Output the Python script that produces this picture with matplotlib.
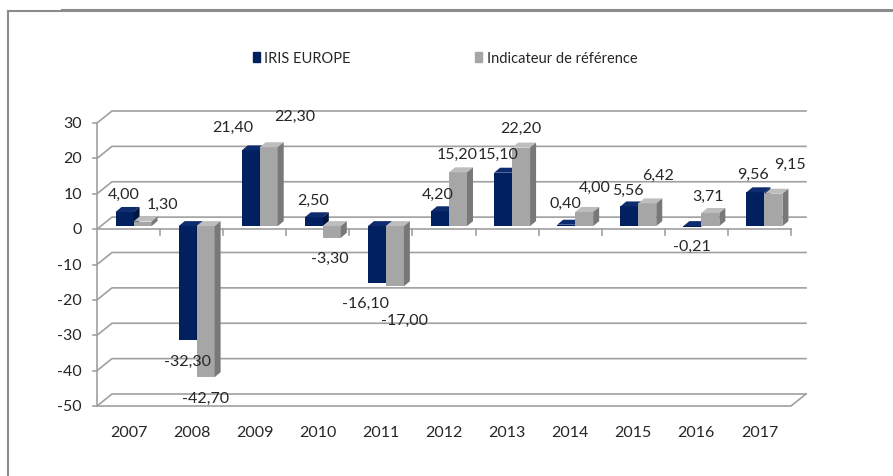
import numpy as np
import matplotlib.pyplot as plt
from matplotlib.patches import Polygon, Patch
from matplotlib.lines import Line2D

# --- données ---
annees = ['2007', '2008', '2009', '2010', '2011', '2012',
          '2013', '2014', '2015', '2016', '2017']
iris = [4.00, -32.30, 21.40, 2.50, -16.10, 4.20, 15.10, 0.40, 5.56, -0.21, 9.56]
reference = [1.30, -42.70, 22.30, -3.30, -17.00, 15.20, 22.20, 4.00, 6.42, 3.71, 9.15]
noms = ['IRIS EUROPE', 'Indicateur de référence']

# décalage des étiquettes (pixels) par rapport au bout de chaque barre
decal_iris = [(-1, 18), (0, -21), (-18, 24), (-1, 17), (-11, -20), (-2, 17),
              (-5, 19), (-1, 22), (-1, 17), (0, -19), (-2, 18)]
decal_ref = [(20, 18), (0, -21), (26, 31), (-2, -20), (10, -34), (-1, 18),
             (0, 20), (11, 25), (11, 29), (-2, 17), (16, 30)]

# couleurs façon Excel
bleu = ('#002060', '#0d2b6e', '#00143f')     # face, dessus, côté
gris = ('#a6a6a6', '#bdbdbd', '#787878')
c_grille = '#a0a0a0'

plt.rcParams['font.family'] = ['Lato', 'DejaVu Sans']

W, H = 893, 477
fig = plt.figure(figsize=(W / 100, H / 100), dpi=100)
x0px, x1px, ytop, ybot = 97, 791, 124, 407
ax = fig.add_axes([x0px / W, 1 - ybot / H, (x1px - x0px) / W, (ybot - ytop) / H])
n = len(annees)
ymin, ymax = -50, 30
ax.set_xlim(0, n)
ax.set_ylim(ymin, ymax)
ax.axis('off')

# conversion pixels -> unités de données
ux = n / (x1px - x0px)
uy = (ymax - ymin) / (ybot - ytop)
mur = (15 * ux, 12 * uy)      # profondeur du fond
plan = (5 * ux, 3 * uy)       # plan des barres
prof = (6 * ux, 5 * uy)       # épaisseur des barres

# grille en perspective
for v in range(ymin, ymax + 1, 10):
    ax.plot([0, mur[0], n + mur[0]], [v, v + mur[1], v + mur[1]],
            color=c_grille, lw=1.2, clip_on=False, zorder=1)
    ax.plot([-4 * ux, 0], [v, v], color=c_grille, lw=1.2, clip_on=False, zorder=1)
ax.plot([0, 0], [ymin, ymax], color=c_grille, lw=1.2, clip_on=False, zorder=1)
ax.plot([0, n, n + mur[0]], [ymin, ymin, ymin + mur[1]],
        color=c_grille, lw=1.2, clip_on=False, zorder=1)
# axe des catégories à zéro
ax.plot([0, n], [0, 0], color=c_grille, lw=1.2, clip_on=False, zorder=2)
for k in range(1, n + 1):
    ax.plot([k, k], [0, -6 * uy], color=c_grille, lw=1.2, clip_on=False, zorder=2)

larg = 0.285
gauche = 0.5 - larg
idx = np.arange(n)


def barres_3d(pos, vals, couleurs, z):
    ax.bar(pos, vals, larg, bottom=plan[1], align='edge',
           color=couleurs[0], zorder=z, clip_on=False)
    for x, v in zip(pos, vals):
        haut = plan[1] + max(v, 0)
        bas = plan[1] + min(v, 0)
        dessus = [(x, haut), (x + larg, haut),
                  (x + larg + prof[0], haut + prof[1]), (x + prof[0], haut + prof[1])]
        cote = [(x + larg, bas), (x + larg + prof[0], bas + prof[1]),
                (x + larg + prof[0], haut + prof[1]), (x + larg, haut)]
        ax.add_patch(Polygon(dessus, closed=True, fc=couleurs[1], ec='none',
                             zorder=z, clip_on=False))
        ax.add_patch(Polygon(cote, closed=True, fc=couleurs[2], ec='none',
                             zorder=z, clip_on=False))


pos_iris = idx + gauche + plan[0]
pos_ref = pos_iris + larg
barres_3d(pos_iris, iris, bleu, 3)
barres_3d(pos_ref, reference, gris, 4)


def etiquettes(pos, vals, decal):
    for x, v, (dx, dy) in zip(pos, vals, decal):
        ax.annotate(f'{v:.2f}'.replace('.', ','), (x + larg / 2, v + plan[1]),
                    xytext=(dx, dy), textcoords='offset pixels',
                    ha='center', va='center', fontsize=11.5, color='#262626',
                    zorder=6, annotation_clip=False)


etiquettes(pos_iris, iris, decal_iris)
etiquettes(pos_ref, reference, decal_ref)

# libellés des axes
for v in range(ymin, ymax + 1, 10):
    ax.text(-15 * ux, v, str(v), ha='right', va='center', fontsize=11.5, color='#262626')
for i, a in enumerate(annees):
    ax.text(i + 0.5, ymin - 26 * uy, a, ha='center', va='center',
            fontsize=11.5, color='#262626')

# légende
poignees = [Patch(color=bleu[0]), Patch(color=gris[0])]
fig.legend(poignees, noms, loc='center', bbox_to_anchor=(445 / W, 1 - 59 / H),
           ncol=2, frameon=False, fontsize=10.5, handlelength=0.5, handleheight=0.75,
           handletextpad=0.3, columnspacing=8.5, labelcolor='#262626')

# cadre du graphique
fig.add_artist(Line2D([8 / W, 8 / W], [0, 1 - 12 / H], color='#8c8c8c', lw=1.5))
fig.add_artist(Line2D([8 / W, 62 / W], [1 - 12 / H, 1 - 12 / H], color='#8c8c8c', lw=1.5))
fig.add_artist(Line2D([62 / W, 1], [1 - 11 / H, 1 - 11 / H], color='#8c8c8c', lw=2.2))

fig.savefig('out.png', dpi=100)
